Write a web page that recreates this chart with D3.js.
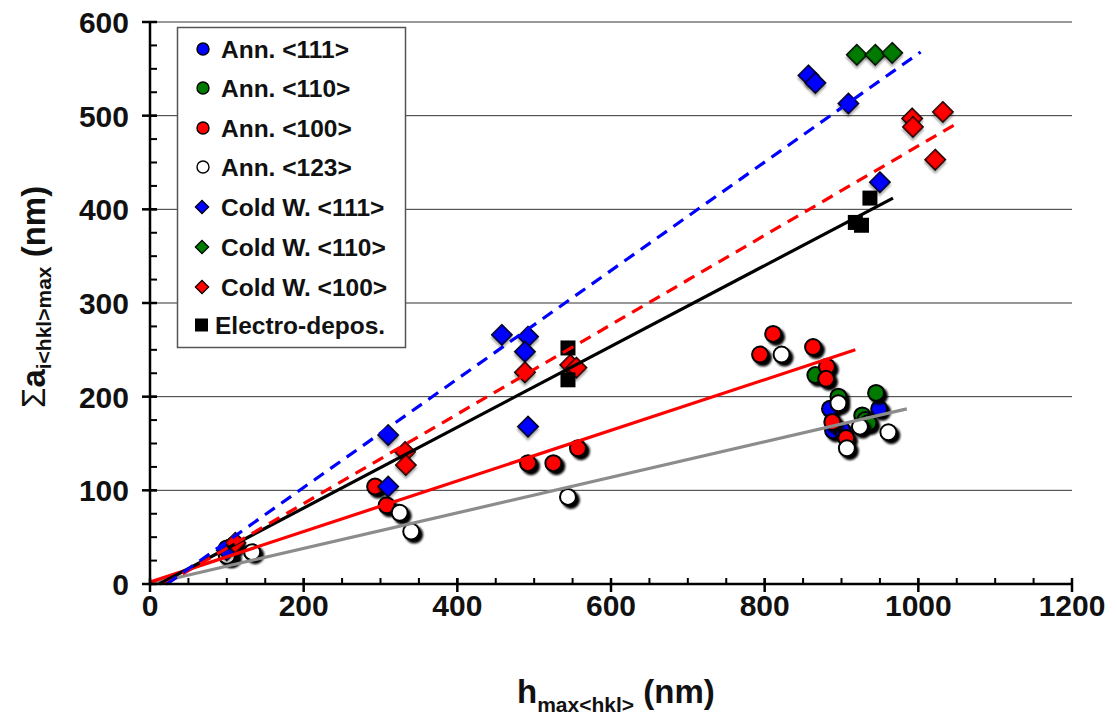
<!DOCTYPE html>
<html><head><meta charset="utf-8">
<script src="https://cdn.jsdelivr.net/npm/d3@7"></script>
<style>body{margin:0;background:#fff;} text{font-family:"Liberation Sans",Arial,sans-serif;font-weight:bold;}</style>
</head><body>
<svg id="c" width="1117" height="717"></svg>
<script>
const xTicks = [0,200,400,600,800,1000,1200];
const yTicks = [0,100,200,300,400,500,600];

const ann111 = [[104,30],[885,187],[889,164],[901,164],[949,187]];
const ann110 = [[100,38],[866,223],[896,200],[945,204],[927,180],[931,175],[935,172]];
const ann100 = [[110,42],[811,267],[794,245],[863,253],[881,232],[880,219],[293,104],[308,84],[492,129],[525,129],[557,145],[888,173],[906,156]];
const ann123 = [[100,30],[133,34],[325,76],[340,56],[544,93],[822,245],[896,193],[924,168],[907,145],[961,162]];
const cold111 = [[100,36],[310,159],[310,104],[458,266],[492,264],[488,248],[492,168],[857,543],[866,535],[909,513],[950,429]];
const cold110 = [[920,565],[944,565],[966,567]];
const cold100 = [[111,44],[332,141],[333,127],[488,226],[547,234],[555,231],[992,497],[993,488],[1032,504],[1022,453]];
const electro = [[544,252],[544,218],[937,412],[918,386],[926,383]];

const fitBlueDash = [[22,0],[1003,568]];
const fitRedDash = [[20,0],[1055,494]];
const fitBlack = [[12,0],[967,412]];
const fitRed = [[0,2],[918,250]];
const fitGray = [[0,0],[985,187]];

const legendLabels = ["Ann. <111>","Ann. <110>","Ann. <100>","Ann. <123>","Cold W. <111>","Cold W. <110>","Cold W. <100>","Electro-depos."];

const svg = d3.select("#c");
const defs = svg.append("defs");
const f1 = defs.append("filter").attr("id","sh").attr("x","-50%").attr("y","-50%").attr("width","200%").attr("height","200%");
f1.append("feDropShadow").attr("dx",3).attr("dy",3).attr("stdDeviation",1).attr("flood-color","#000").attr("flood-opacity",1);
const f2 = defs.append("filter").attr("id","sh2").attr("x","-50%").attr("y","-50%").attr("width","200%").attr("height","200%");
f2.append("feDropShadow").attr("dx",2).attr("dy",2).attr("stdDeviation",1).attr("flood-color","#000").attr("flood-opacity",0.35);

const x = d3.scaleLinear().domain([0,1200]).range([150,1072]);
const y = d3.scaleLinear().domain([0,600]).range([584,22]);

// gridlines
svg.append("g").selectAll("line").data(yTicks.filter(d=>d>0)).join("line")
  .attr("x1",x(0)).attr("x2",x(1200)).attr("y1",d=>y(d)).attr("y2",d=>y(d))
  .attr("stroke","#333").attr("stroke-width",1);

// markers
const plot = svg.append("g");
function circles(data, fill){
  plot.append("g").selectAll("circle").data(data).join("circle")
    .attr("cx",d=>x(d[0])).attr("cy",d=>y(d[1])).attr("r",8)
    .attr("fill",fill).attr("stroke","#000").attr("stroke-width",2).attr("filter","url(#sh)");
}
function diamonds(data, fill){
  plot.append("g").selectAll("path").data(data).join("path")
    .attr("d",d3.symbol().type(d3.symbolSquare).size(210))
    .attr("transform",d=>`translate(${x(d[0])},${y(d[1])}) rotate(45)`)
    .attr("fill",fill).attr("stroke","#000").attr("stroke-width",1.4).attr("filter","url(#sh2)");
}
function squares(data){
  plot.append("g").selectAll("rect").data(data).join("rect")
    .attr("x",d=>x(d[0])-7.5).attr("y",d=>y(d[1])-7.5).attr("width",15).attr("height",15)
    .attr("fill","#000");
}
circles(ann111,"#0000ff");
circles(ann110,"#007a00");
circles(ann100,"#ff0000");
circles(ann123,"#ffffff");
diamonds(cold111,"#0000ff");
diamonds(cold110,"#007a00");
diamonds(cold100,"#ff0000");
squares(electro);

// fit lines
const line = d3.line().x(d=>x(d[0])).y(d=>y(d[1]));
function fit(data,color,dash){
  svg.append("path").datum(data).attr("d",line).attr("fill","none")
    .attr("stroke",color).attr("stroke-width",3.2).attr("stroke-dasharray",dash||null);
}
fit(fitGray,"#8c8c8c");
fit(fitRed,"#ff0000");
fit(fitBlack,"#000000");
fit(fitRedDash,"#ff0000","12,8");
fit(fitBlueDash,"#0000ff","12,8");

// axes
const ax = svg.append("g");
ax.append("line").attr("x1",x(0)).attr("x2",x(1200)).attr("y1",y(0)).attr("y2",y(0)).attr("stroke","#000").attr("stroke-width",2.5);
ax.append("line").attr("x1",x(0)).attr("x2",x(0)).attr("y1",y(0)).attr("y2",y(600)).attr("stroke","#000").attr("stroke-width",2.5);
const xMinor = d3.range(50,1200,50);
ax.selectAll(".xm").data(xMinor).join("line").attr("x1",d=>x(d)).attr("x2",d=>x(d)).attr("y1",y(0)).attr("y2",y(0)-6).attr("stroke","#000").attr("stroke-width",2);
ax.selectAll(".xM").data(xTicks).join("line").attr("x1",d=>x(d)).attr("x2",d=>x(d)).attr("y1",y(0)-6).attr("y2",y(0)+8).attr("stroke","#000").attr("stroke-width",2.5);
const yMinor = d3.range(25,600,25);
ax.selectAll(".ym").data(yMinor).join("line").attr("x1",x(0)).attr("x2",x(0)+7).attr("y1",d=>y(d)).attr("y2",d=>y(d)).attr("stroke","#000").attr("stroke-width",2);
ax.selectAll(".yM").data(yTicks).join("line").attr("x1",x(0)-8).attr("x2",x(0)+7).attr("y1",d=>y(d)).attr("y2",d=>y(d)).attr("stroke","#000").attr("stroke-width",2.5);
ax.selectAll(".xl").data(xTicks).join("text").attr("x",d=>x(d)).attr("y",616).attr("text-anchor","middle")
  .attr("font-size",30).attr("fill","#111").text(d=>d);
ax.selectAll(".yl").data(yTicks).join("text").attr("x",129).attr("y",d=>y(d)+11).attr("text-anchor","end")
  .attr("font-size",30).attr("fill","#111").text(d=>d);

// axis titles
const xt = svg.append("text").attr("x",517).attr("y",703).attr("font-size",33).attr("fill","#111");
xt.append("tspan").text("h");
xt.append("tspan").attr("font-size",21).attr("dy",9).text("max<hkl>");
xt.append("tspan").attr("dy",-9).text(" (nm)");

const yt = svg.append("text").attr("transform","translate(45,408) rotate(-90)").attr("font-size",33).attr("fill","#111");
yt.append("tspan").attr("font-weight","normal").text("Σ");
yt.append("tspan").text("a");
yt.append("tspan").attr("font-size",21).attr("dy",6).text("i<hkl>max");
yt.append("tspan").attr("dy",-6).text(" (nm)");

// legend
const lg = svg.append("g");
lg.append("rect").attr("x",177.5).attr("y",27.5).attr("width",228).attr("height",320).attr("fill","#fff").attr("stroke","#555").attr("stroke-width",1.5);
const rows = [49,88,128,167,207,247,287,325];
const legendFills = ["#0000ff","#007a00","#ff0000","#ffffff","#0000ff","#007a00","#ff0000","#000"];
legendLabels.forEach((lab,i)=>{
  const cy = rows[i];
  if(i<4){
    lg.append("circle").attr("cx",203).attr("cy",cy).attr("r",6).attr("fill",legendFills[i]).attr("stroke","#000").attr("stroke-width",1.4);
  } else if(i<7){
    lg.append("path").attr("d",d3.symbol().type(d3.symbolSquare).size(90)).attr("transform",`translate(202,${cy}) rotate(45)`)
      .attr("fill",legendFills[i]).attr("stroke","#000").attr("stroke-width",1.2);
  } else {
    lg.append("rect").attr("x",195).attr("y",cy-6.5).attr("width",13).attr("height",13).attr("fill","#000");
  }
  lg.append("text").attr("x",i===7?215:221).attr("y",cy+8.5).attr("font-size",24.5).attr("fill","#111").text(lab);
});
</script>
</body></html>
